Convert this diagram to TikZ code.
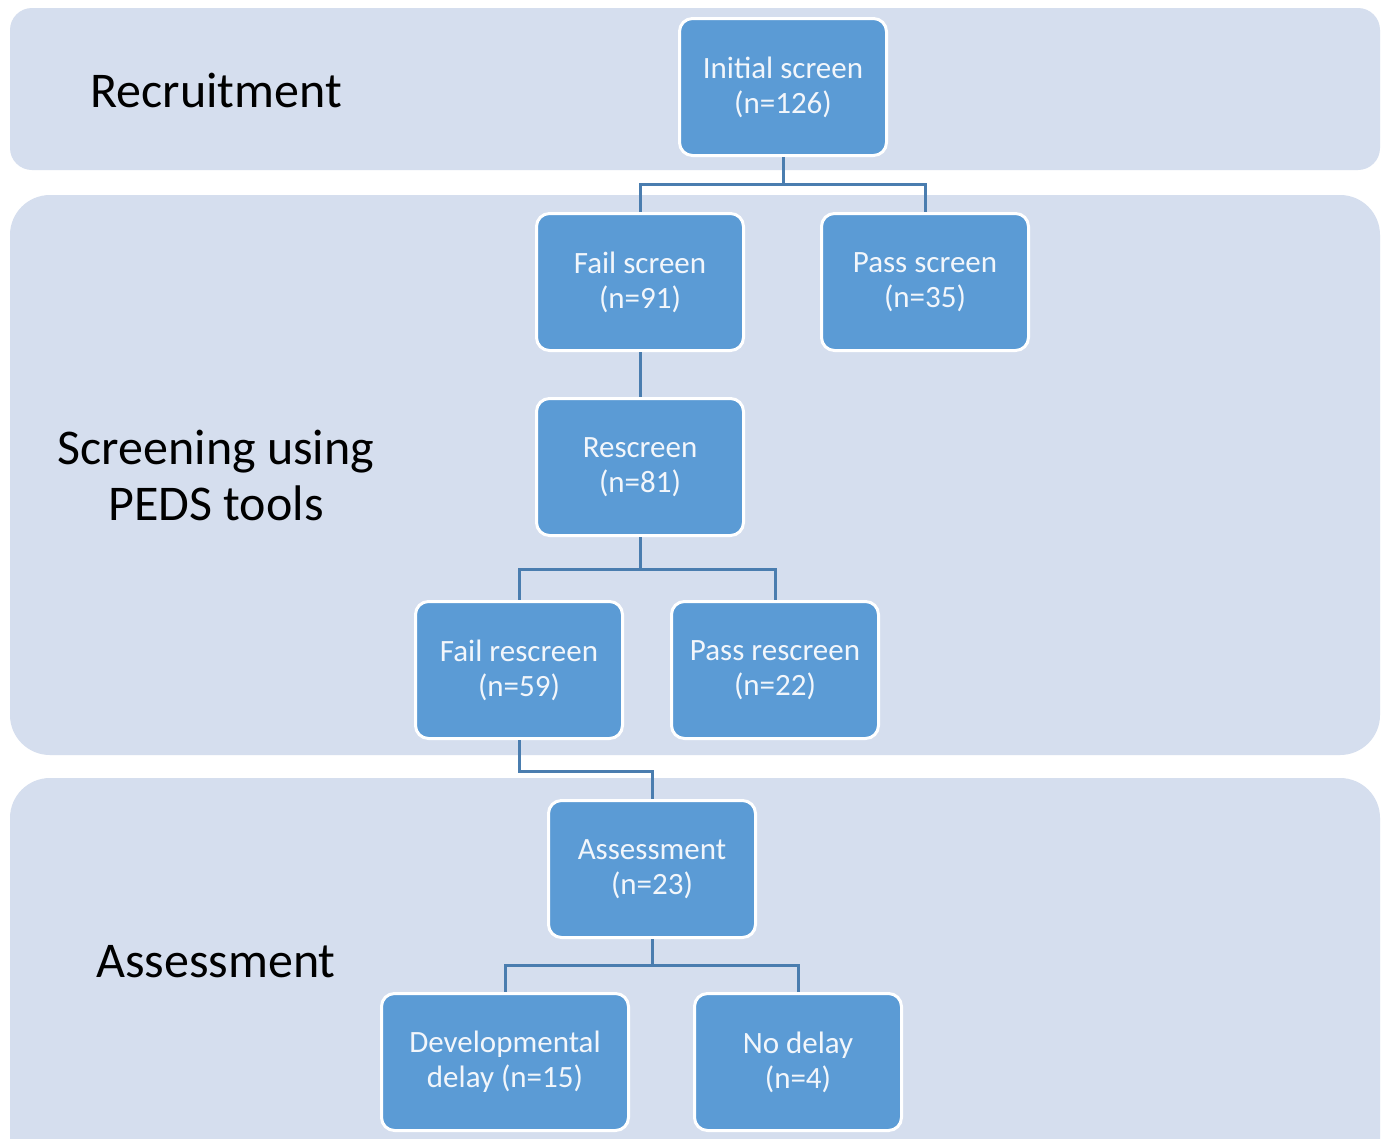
\documentclass[tikz,border=0pt]{standalone}
\usepackage{fontspec}
\setmainfont{Carlito}
\definecolor{band}{HTML}{D5DEEE}
\definecolor{boxfill}{HTML}{5B9BD5}
\definecolor{linec}{HTML}{4A7DAF}
\definecolor{boxtext}{HTML}{F2F6FB}
\begin{document}
\begin{tikzpicture}[x=1pt,y=-1pt,
  bandbox/.style={fill=band, draw=none},
  stagebox/.style={rectangle, rounded corners=13pt, fill=boxfill, draw=white, line width=3pt,
    minimum width=207pt, minimum height=137pt, align=center, text=boxtext,
    font=\fontsize{31}{35}\selectfont, inner sep=2pt},
  phaselabel/.style={align=center, text=black, font=\fontsize{50}{56}\selectfont},
  conn/.style={draw=linec, line width=3pt}]
\useasboundingbox (0,0) rectangle (1386,1138);
\fill[white] (0,0) rectangle (1386,1138);
% bands
\fill[bandbox, rounded corners=22pt] (10,8) rectangle (1380,170);
\fill[bandbox, rounded corners=40pt] (10,195) rectangle (1380,755);
\begin{scope}
\clip (0,0) rectangle (1386,1138);
\fill[bandbox, rounded corners=40pt] (10,778) rectangle (1380,1180);
\end{scope}
% phase labels
\node[phaselabel] (lrec) at (216,90) {Recruitment};
\node[phaselabel] (lscr) at (216,475) {Screening using\\PEDS tools};
\node[phaselabel] (lass) at (216,962) {Assessment};
% boxes
\node[stagebox] (init) at (783,87) {Initial screen\\(n=126)};
\node[stagebox] (fs) at (640,282) {Fail screen\\(n=91)};
\node[stagebox] (ps) at (925,282) {Pass screen\\(n=35)};
\node[stagebox] (rs) at (640,467) {Rescreen\\(n=81)};
\node[stagebox] (fr) at (519,670) {Fail rescreen\\(n=59)};
\node[stagebox] (pr) at (775,670) {Pass rescreen\\(n=22)};
\node[stagebox] (as) at (652,869) {Assessment\\(n=23)};
\node[stagebox, minimum width=247pt] (dd) at (505,1062) {Developmental\\delay (n=15)};
\node[stagebox] (nd) at (798,1062) {No delay\\(n=4)};
% connectors
\draw[conn] (init.south) -- ++(0,27) -| (fs.north);
\draw[conn] (init.south) -- ++(0,27) -| (ps.north);
\draw[conn] (fs.south) -- (rs.north);
\draw[conn] (rs.south) -- ++(0,32) -| (fr.north);
\draw[conn] (rs.south) -- ++(0,32) -| (pr.north);
\draw[conn] (fr.south) -- ++(0,31) -| (as.north);
\draw[conn] (as.south) -- ++(0,26) -| (dd.north);
\draw[conn] (as.south) -- ++(0,26) -| (nd.north);
\end{tikzpicture}
\end{document}
